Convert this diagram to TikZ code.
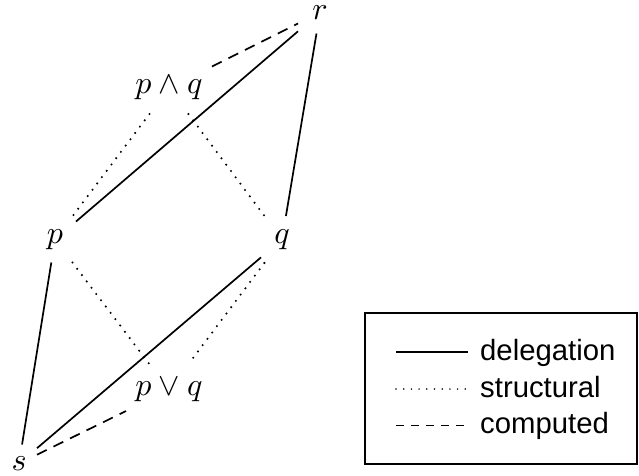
\documentclass[tikz,border=0pt]{standalone}
\usepackage{graphicx}
\usepackage{fontspec}
\newfontfamily\legendfont{Liberation Sans}
\begin{document}
\begin{tikzpicture}[x=1pt,y=-1pt,
  lbl/.style={rectangle, inner sep=0pt, outer sep=0pt},
  deleg/.style={line width=1.7pt},
  struct/.style={line width=2.3pt, line cap=round, dash pattern=on 0pt off 7.9pt},
  comp/.style={line width=1.7pt, dash pattern=on 10.8pt off 7.6pt},
  legdeleg/.style={line width=1.3pt},
  legstruct/.style={line width=1.7pt, line cap=round, dash pattern=on 0pt off 7.7pt},
  legcomp/.style={line width=1.3pt, dash pattern=on 8pt off 7pt},
  legtext/.style={anchor=base west, inner sep=0pt, font={\legendfont\fontsize{29.3}{35}\selectfont}},
  legbox/.style={draw, line width=1.6pt, rectangle, inner sep=0pt}]
\useasboundingbox (0,0) rectangle (639,475);

% nodes
\node[lbl, minimum width=44pt, minimum height=42pt] (r) at (320,12.5) {\scalebox{3.2}{$r$}};
\node[lbl, minimum width=86pt, minimum height=52pt] (pq) at (169,88) {\scalebox{3.2}{$p\wedge q$}};
\node[lbl, minimum width=42pt, minimum height=46pt] (p) at (55,239.5) {\scalebox{3.2}{$p$}};
\node[lbl, minimum width=42pt, minimum height=47pt] (q) at (282,239.5) {\scalebox{3.2}{$q$}};
\node[lbl, minimum width=86pt, minimum height=52pt] (pvq) at (169,390) {\scalebox{3.2}{$p\vee q$}};
\node[lbl, minimum width=36pt, minimum height=38pt] (s) at (19,463.5) {\scalebox{3.2}{$s$}};

% connectors
\draw[comp] (pq) -- (r);
\draw[deleg] (r) -- (p);
\draw[deleg] (r) -- (q);
\draw[struct] (pq) -- (p);
\draw[struct] (pq) -- (q);
\draw[deleg] (p) -- (s);
\draw[struct] (p) -- (pvq);
\draw[struct] (q) -- (pvq);
\draw[deleg] (q) -- (s);
\draw[comp] (s) -- (pvq);

% legend
\node[legbox, minimum width=272pt, minimum height=151pt] (legend) at (501.25,388.5) {};
\coordinate (l1a) at (396,352);
\coordinate (l1b) at (468,352);
\coordinate (l2a) at (396,389);
\coordinate (l2b) at (468,389);
\coordinate (l3a) at (396,425.5);
\coordinate (l3b) at (468,425.5);
\draw[legdeleg] (l1a) -- (l1b);
\draw[legstruct] (l2a) -- (l2b);
\draw[legcomp] (l3a) -- (l3b);
\node[legtext] (t1) at (480,360.5) {delegation};
\node[legtext] (t2) at (480,397) {structural};
\node[legtext] (t3) at (480,433) {computed};
\end{tikzpicture}
\end{document}
